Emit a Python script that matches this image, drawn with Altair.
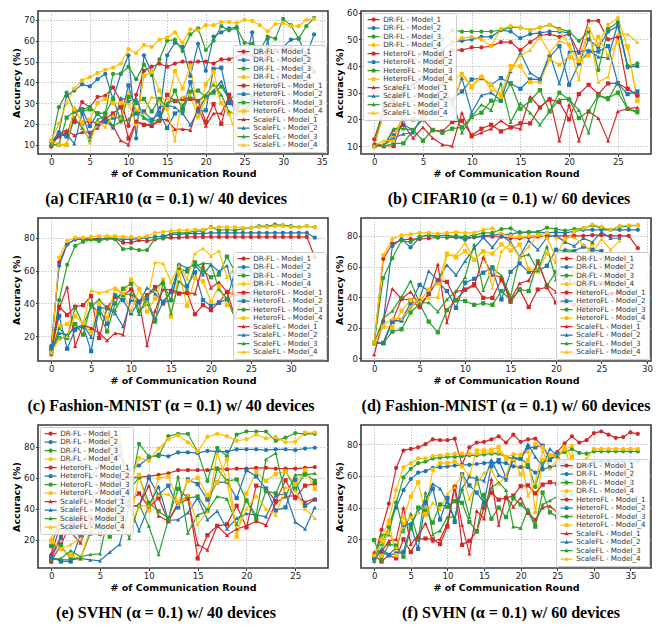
import altair as alt
import pandas as pd

METHODS = ["DR-FL", "HeteroFL", "ScaleFL"]
MODELS = ["Model_1", "Model_2", "Model_3", "Model_4"]
MODEL_COLORS = ["#d62728", "#1f77b4", "#2ca02c", "#ffbf00"]
METHOD_SHAPES = ["circle", "square", "triangle-up"]

# ---------------- (a) CIFAR10, 40 devices ----------------
a_dr1 = [9, 15, 14, 22, 30.5, 28, 33, 33.5, 37.5, 31, 19, 34, 45.5, 47.5, 49, 47.5, 49, 50, 49.5, 50, 50, 49, 51, 51, 52.5, 53.5, 53, 54, 53, 55.5, 56, 56.5, 36, 54, 45]
a_dr2 = [11, 16, 33.5, 36, 39, 38, 41.5, 44, 32, 44, 53, 13, 53, 45, 24, 53, 59, 57, 43, 58.5, 45.5, 62, 64, 66, 66.5, 48, 64, 38, 61, 35, 57, 60.5, 61, 53, 63]
a_dr3 = [10, 28, 35, 26, 27, 28, 25, 25, 44, 44, 47.5, 41.5, 48.5, 43.5, 51, 60, 60.5, 55, 63, 66, 55.5, 60, 67, 65, 66, 59, 58.5, 55.5, 62, 61, 70.5, 67.5, 61, 67, 71]
a_dr4 = [12, 20, 30, 37, 41, 42.5, 44.5, 46, 47, 49, 56, 54, 58, 57, 60.5, 61.5, 64, 59, 65.5, 65, 67.5, 67.5, 69, 69, 68.5, 70, 69.5, 67.5, 64.5, 68, 68.5, 67, 67, 70, 70.5]
a_het1 = [10, 14, 16, 21, 20, 21.5, 20, 22.5, 25, 28, 13, 21, 19.5, 19, 21.5, 34, 31, 32, 32, 31, 21, 29.5, 20, 34, 27, 25.5, 33, 33]
a_het2 = [10, 15, 14, 26, 27, 19, 25, 21, 23, 23, 38.5, 25, 26, 22, 25, 18, 25, 27, 40, 26, 26.5, 46.5, 47, 30, 28.5, 25.5, 32]
a_het3 = [10, 10, 23, 26, 26, 27, 25, 25, 32, 22, 33, 30, 32, 26, 32, 28, 36, 26, 35.5, 36, 33, 35, 38, 32, 34, 27, 30]
a_het4 = [10, 10, 10, 27, 21, 22, 30, 32, 30, 30, 30, 20, 43, 45, 36, 28, 45.5, 37, 48, 24, 39, 45, 30, 25, 14, 43, 38]
a_sc1 = [10, 15, 17, 14.5, 16, 16, 18, 22, 19, 12, 10, 21, 20, 19.5, 22, 22, 17.5, 17.5, 17, 28, 19, 25, 25, 33, 26, 25, 29]
a_sc2 = [10, 15, 15, 10.5, 25, 14, 20, 22, 18, 32.5, 31, 32, 23, 20, 28, 29, 28, 25, 19.5, 26, 33, 36, 40.5, 31.5, 25.5, 34.5, 29]
a_sc3 = [10, 10, 10, 23, 18, 12, 22, 24, 19, 21, 22, 26, 23, 21.5, 22, 30, 31.5, 29, 33, 31, 34, 39, 34, 26, 24.5, 38, 33]
a_sc4 = [12, 10, 10, 28, 20, 11, 21, 18.5, 24, 23, 35, 27, 25, 33, 31, 27, 12, 33, 34, 23, 32, 40, 30, 25, 26, 31, 44.5]

# ---------------- (b) CIFAR10, 60 devices ----------------
b_dr1 = [12.5, 24, 28, 31, 33, 36, 38, 43, 46, 46, 47, 47, 47.5, 49, 49, 46, 49, 51.5, 52, 51, 52, 45, 57, 57, 50, 51, 31.5, 29]
b_dr2 = [10, 23, 27, 30, 33, 35, 40, 46, 49, 49.5, 50, 51, 51, 53.5, 53, 50.5, 52, 52.5, 53, 53, 52.5, 41, 50, 47, 53, 55, 40, 40]
b_dr3 = [10, 26, 32, 38, 42, 45, 43, 50, 53.5, 53, 53, 53, 53, 53.5, 54.5, 54.5, 53.5, 54.5, 55.5, 54, 53, 49.5, 53, 38.5, 54, 56.5, 40, 41]
b_dr4 = [10, 22, 30, 35, 38, 40, 39.5, 40.5, 48, 50.5, 51, 50, 47.5, 54, 55, 54.5, 53.5, 54.5, 55.5, 53.5, 48, 41.5, 54, 48, 55.5, 58, 47, 27]
b_het1 = [10, 10, 10, 20, 20, 20, 16, 15.5, 19, 19.5, 14, 16.5, 18, 15.5, 17, 18.5, 18.5, 24.5, 27.5, 26.5, 20, 29.5, 33, 29.5, 33.5, 33.5, 31.5, 29]
b_het2 = [10, 10, 14, 18, 16, 20, 28.5, 27.5, 27.5, 30.5, 35, 35.5, 33, 35.5, 33.5, 31.5, 35, 35, 43.5, 47.5, 33, 41, 45.5, 45.5, 47.5, 33.5, 29.5, 30.5]
b_het3 = [10, 10, 11, 11, 16, 12, 16, 15, 16.5, 17, 21, 22.5, 27, 27, 33.5, 24, 27, 31, 23, 30, 27.5, 20.5, 23, 29, 28, 30, 24, 23]
b_het4 = [10, 10, 13, 22, 27, 20, 30, 35, 34.5, 37, 32, 36, 33, 28.5, 40, 40, 34, 34, 42.5, 40.5, 43.5, 42, 44, 51, 44, 49, 47.5, 27]
b_sc1 = [11, 10, 16, 18, 13, 17, 13, 10.5, 10, 22.5, 13.5, 15, 16.5, 19.5, 17, 16.5, 28.5, 24.5, 28, 12, 25.5, 12, 23, 20.5, 12, 23, 24, 24.5]
b_sc2 = [10, 10.5, 13, 14.5, 15, 22, 27, 33.5, 25.5, 35.5, 22.5, 29, 30, 27, 38, 45, 37.5, 35, 44.5, 33.5, 45.5, 45.5, 46, 43.5, 43, 56, 39.5, 40]
b_sc3 = [10, 10, 16.5, 16.5, 16, 20, 24, 28.5, 28, 15, 21, 25.5, 23.5, 33.5, 19, 26, 22.5, 18, 23, 27.5, 27.5, 23.5, 15, 29, 27.5, 34, 24, 22.5]
b_sc4 = [10, 12, 12, 22, 23, 26, 30, 35, 22, 37.5, 32.5, 36.5, 31, 30, 38.5, 44, 46, 51, 45, 49.5, 48, 35, 54.5, 34, 36, 52, 52, 49]

# ---------------- (c) Fashion-MNIST, 40 devices ----------------
c_dr1 = [12, 65, 76, 79, 79, 79.5, 79.5, 79.5, 79.5, 77, 77, 78.5, 78, 79, 80, 80, 80, 80.5, 80.5, 80.5, 80.5, 80.5, 80.5, 80.5, 80.5, 80.5, 80.5, 80.5, 80.5, 80.5, 80.5, 80.5, 80.5, 68]
c_dr2 = [14, 63, 76, 79, 79, 79, 79, 80, 79.5, 79, 79, 79.5, 80, 80.5, 81, 82, 82, 82.5, 82.5, 82.5, 83, 83, 83, 83, 83, 83, 83, 83, 83, 83, 83, 83, 83, 80]
c_dr3 = [10, 42, 63.5, 75, 77.5, 79, 78, 79.5, 79, 73, 73.5, 72.5, 72.5, 79.5, 79.5, 83, 83, 83, 84, 84, 86.5, 84.5, 85, 84.5, 85.5, 86, 87, 87, 88, 87.5, 87, 86.5, 87, 86.5]
c_dr4 = [10, 68, 78, 80, 80, 80.5, 81, 81, 81, 80.5, 80.5, 80, 81, 83, 83.5, 84, 84.5, 84.5, 85, 85, 86, 86.5, 86.5, 86.5, 86, 86, 86.5, 86.5, 87, 87, 86.5, 86.5, 87, 86.5]
c_het1 = [10, 38, 33, 38, 39, 44.5, 19, 37.5, 44, 45, 48.5, 41, 45, 50, 40, 47, 46, 46.5, 33.5, 39, 36, 40.5, 47, 45.5, 45.5, 36.5, 35.5]
c_het2 = [12, 32.5, 12.5, 24, 26, 11, 37, 27.5, 45, 42, 34, 41, 43, 30, 41, 47.5, 63, 50.5, 59, 42, 38.5, 40.5, 42.5, 59.5, 60, 60, 45]
c_het3 = [11, 19, 19, 27.5, 21, 39.5, 34, 23, 40, 49, 52, 35.5, 40, 29, 52.5, 42, 61, 59.5, 65, 60, 56, 57.5, 68.5, 59.5, 57.5, 52, 60]
c_het4 = [10, 26.5, 27.5, 32.5, 28, 22.5, 40, 31, 49, 45, 54.5, 49, 35, 43, 54.5, 32, 59, 38.5, 55.5, 53.5, 41, 50.5, 39, 51, 53.5, 54, 55]
c_sc1 = [9, 37, 50, 14, 27, 25, 22, 17.5, 22, 21, 46, 41.5, 14.5, 35.5, 48.5, 48.5, 46.5, 46.5, 46, 63, 49.5, 53, 47, 32, 42.5, 52.5, 53]
c_sc2 = [10, 22, 21, 25, 27, 19.5, 37.5, 37, 34, 26, 42, 40.5, 49.5, 46, 40.5, 42, 64, 61.5, 63.5, 57.5, 63.5, 59.5, 63, 45.5, 44, 43.5, 53]
c_sc3 = [10, 25, 19.5, 37.5, 27, 38, 42.5, 37, 36, 45, 46, 33.5, 44.5, 48.5, 53.5, 34, 53.5, 49, 62.5, 64.5, 64, 48.5, 43, 31, 45.5, 46, 52.5]
c_sc4 = [10, 18.5, 20, 32.5, 28, 48, 46.5, 47.5, 49.5, 46.5, 35.5, 48.5, 40.5, 65, 64.5, 53, 63, 55, 70.5, 73.5, 69, 72, 56, 61, 55, 51, 53]

# ---------------- (d) Fashion-MNIST, 60 devices ----------------
d_dr1 = [10, 65, 75, 77.5, 78, 78, 78.5, 79, 79, 79, 79, 79, 79.5, 79.5, 79.5, 78.5, 78.5, 79, 79.5, 80, 80, 80, 80, 80, 80.5, 80.5, 80, 80, 80, 72]
d_dr2 = [10, 24, 73.5, 78, 72.5, 79, 80.5, 80, 80.5, 79.5, 77.5, 79.5, 80, 80.5, 81, 81, 82.5, 82.5, 82.5, 82, 82.5, 82, 83, 84, 84, 84, 84, 84, 84, 84]
d_dr3 = [10, 52.5, 65.5, 77, 76, 79.5, 80.5, 79, 79, 80, 79.5, 80.5, 82, 82, 84.5, 85, 82, 82.5, 82.5, 85.5, 84.5, 83.5, 84.5, 85, 87, 85, 84, 86, 86.5, 87]
d_dr4 = [10, 67.5, 78, 80.5, 81, 82, 82, 81.5, 82, 82.5, 82, 82, 84, 85, 81, 80, 79.5, 80, 80.5, 82, 79, 76.5, 83, 85, 87.5, 86, 84, 86.5, 87, 87]
d_het1 = [10, 10, 24, 39, 38, 33.5, 42, 51, 50, 38, 45, 48.5, 39.5, 39.5, 51.5, 37, 45, 33.5, 45, 46.5, 36.5, 36.5, 35, 34, 34, 37, 42, 43]
d_het2 = [10, 10, 24, 25, 36, 48, 44, 50, 44, 33, 49.5, 52, 56, 59.5, 38.5, 56.5, 62, 56.5, 57, 60.5, 71, 70, 70, 73, 71, 70, 47, 60]
d_het3 = [10, 10, 17.5, 19, 30, 35.5, 24, 17, 31.5, 38, 37.5, 35, 36, 35, 44, 38, 45, 44, 63.5, 47.5, 56.5, 52.5, 49, 45.5, 42, 49, 49, 45]
d_het4 = [10, 20.5, 20.5, 31, 38, 37, 45, 49, 68.5, 66, 70, 64.5, 70, 68.5, 74.5, 70.5, 74.5, 58.5, 57, 68.5, 63, 67, 54, 65, 75, 55, 47, 51]
d_sc1 = [2.5, 25, 45.5, 39, 43.5, 35, 42, 61.5, 23.5, 44, 44.5, 47.5, 66, 54.5, 53, 38.5, 49, 51, 62.5, 48, 43.5, 39.5, 60.5, 52, 49.5, 49, 50, 50]
d_sc2 = [10, 10, 25, 24.5, 33, 39, 57, 51, 61, 54.5, 63.5, 72, 79, 72.5, 80.5, 76, 66.5, 77, 71, 79, 80.5, 76, 73.5, 78.5, 76, 82.5, 78.5, 78.5]
d_sc3 = [10, 26, 31, 40, 50.5, 36, 36.5, 30.5, 38.5, 44, 53, 74.5, 44.5, 59, 54, 40.5, 66, 68, 57.5, 73, 51.5, 71.5, 70, 64.5, 56, 54.5, 64, 65.5]
d_sc4 = [10, 21.5, 26, 26, 32.5, 40, 39.5, 40, 67.5, 67.5, 75.5, 64.5, 70.5, 46, 70, 75, 66, 73, 81, 79, 66, 79, 79, 74.5, 69, 78, 71, 77]

# ---------------- (e) SVHN, 40 devices ----------------
e_dr1 = [10, 22, 30, 37, 45, 53, 57, 59, 60, 60.5, 61, 62, 63, 65, 65, 65, 65, 66, 65.5, 66, 66, 66.5, 66.5, 66, 66, 66, 66.5, 67]
e_dr2 = [8, 21, 35, 48, 60, 68, 73, 74.5, 65, 68, 73, 75, 74, 76.5, 76.5, 76, 77.5, 77, 77, 78.5, 78.5, 78.5, 78, 78.5, 78.5, 78, 79, 79.5]
e_dr3 = [16, 35, 55, 68, 78, 84, 79, 80.5, 48, 82, 74, 74, 87, 88.5, 88.5, 77, 58, 79.5, 74, 88, 90, 90, 90, 84, 86, 89, 88.5, 88.5]
e_dr4 = [20, 45, 70, 82, 86, 86, 87, 87, 56, 73, 71, 79, 85, 87.5, 83, 77, 86.5, 88.5, 87, 84, 85, 88, 85.5, 86.5, 83, 83.5, 89.5, 89.5]
e_het1 = [6, 17, 30, 33, 35, 24, 37, 37, 45, 50, 41, 47, 32, 44, 48, 8, 23, 29, 30, 42, 28, 55, 53, 45, 58.5, 47, 55, 56.5]
e_het2 = [9, 6, 6, 23, 30, 28, 40, 52, 42, 42, 60, 49, 55, 41, 59, 56, 46, 57, 57.5, 47, 65, 61, 53, 39, 41, 59, 42, 46]
e_het3 = [16, 16, 8, 8, 24, 30, 22, 42, 52, 60.5, 44, 38.5, 34, 53, 47, 48, 39, 66, 58, 59, 45.5, 33.5, 51.5, 50, 64.5, 53, 63, 58]
e_het4 = [19, 14, 10, 8, 27, 29, 37.5, 32, 27.5, 62, 39, 60, 61, 44.5, 58, 60, 49, 57, 72, 22, 50, 64, 58, 62.5, 64, 56, 65, 53]
e_sc1 = [11, 30, 25, 18, 32, 38, 43, 46.5, 42, 42, 55, 35.5, 32, 43, 46.5, 17, 13.5, 29, 23, 27, 29, 32, 29.5, 44, 48, 48.5, 44.5, 46.5]
e_sc2 = [8, 7, 7, 8, 7, 6.5, 12, 17, 42, 26, 42, 54.5, 32.5, 33, 37.5, 47, 33, 38.5, 27, 34, 37, 36, 35, 48.5, 50, 31.5, 27, 41]
e_sc3 = [7, 8, 13, 9, 10.5, 11, 40, 35, 21, 43, 29, 10.5, 33, 61, 24.5, 36, 38.5, 48, 46.5, 30, 45.5, 36, 72, 76, 48, 62, 62, 63]
e_sc4 = [20, 14, 17, 21, 28, 30, 44, 31, 28, 42, 42, 49, 49.5, 43, 49, 30, 38, 76, 58, 25, 40, 48.5, 40, 36, 54, 52, 40, 34]

# ---------------- (f) SVHN, 60 devices ----------------
f_dr1 = [8, 26, 42.5, 65, 76, 77, 78, 80, 83, 82.5, 82.5, 83.5, 67, 78, 81, 81.5, 83, 85, 81, 86, 81.5, 83, 83.5, 79, 72, 75, 80.5, 85, 81, 82.5, 87, 88, 86, 84, 84.5, 87.5, 86.5]
f_dr2 = [8, 12, 28, 40, 51, 58, 62, 63, 65, 65.5, 66, 66.5, 67, 67, 67.5, 68, 68.5, 68.5, 68, 66, 65.5, 65.5, 62, 64, 65.5, 66.5, 69, 70, 66, 67, 69, 69, 69, 69, 69, 69, 69]
f_dr3 = [10, 17, 28, 43, 59, 64.5, 68, 69, 71, 71.5, 72, 72, 72.5, 73, 73, 73.5, 74, 74, 72, 71, 71, 67, 53, 69, 70, 73, 75, 77, 74.5, 74, 75.5, 75.5, 75.5, 75.5, 75.5, 75.5, 75.5]
f_dr4 = [10, 20, 32, 51, 65.5, 68, 71, 71, 72.5, 73, 73.5, 74, 74, 74, 74, 75, 75, 75, 72, 73.5, 73.5, 75, 37, 70, 73, 74, 76.5, 79, 30, 70.5, 77, 77, 77, 77, 77, 77, 77]
f_het1 = [10, 6, 10, 8, 20, 12, 20, 20.5, 20, 17, 28, 53, 16.5, 19, 25, 40, 49.5, 45, 46, 47.5, 53.5, 54, 49, 54.5, 56, 55, 55, 55]
f_het2 = [8, 12, 10, 11, 12, 29, 14, 43, 52, 32.5, 46, 31, 61, 54, 49.5, 43, 66, 70, 59, 70, 71, 78, 78, 79, 70, 74, 57, 55]
f_het3 = [19.5, 7, 17, 16, 9, 27, 40, 38, 30.5, 42, 40.5, 44, 43, 31, 25, 48, 33, 40, 34, 46, 42, 37.5, 28, 49.5, 37, 34, 48, 48.5]
f_het4 = [10, 10, 30, 10, 34, 47, 56, 36, 64, 68, 68, 69, 66, 60, 76, 76, 76.5, 78, 71, 70.5, 61, 70, 80, 78, 73, 72, 78, 72]
f_sc1 = [12, 12, 19, 20, 40, 17, 22.5, 30, 19, 20, 30, 54, 29, 11, 38, 33, 58, 29, 47, 40.5, 46, 36.5, 32.5, 40, 41, 37, 34.5, 35.5]
f_sc2 = [7, 14, 10.5, 14.5, 29, 30, 37.5, 44, 55, 52, 43.5, 33, 52, 59.5, 58, 57, 70, 60.5, 57.5, 72, 70.5, 80, 72, 66, 77, 72.5, 67, 65.5]
f_sc3 = [6, 23, 23, 44, 25, 36, 20, 49.5, 23, 25.5, 34, 34, 52, 34, 59.5, 41, 52.5, 56, 51, 28, 27, 39, 30, 42, 44.5, 47, 42, 40]
f_sc4 = [10, 18, 24, 15, 30, 34, 37, 35, 43, 39, 48.5, 53, 61, 45.5, 55, 62, 64, 55, 60, 74, 73, 47.5, 56, 76, 64.5, 70, 79, 62]

CAPTIONS = [
    "(a) CIFAR10 (\u03b1 = 0.1) w/ 40 devices",
    "(b) CIFAR10 (\u03b1 = 0.1) w/ 60 devices",
    "(c) Fashion-MNIST (\u03b1 = 0.1) w/ 40 devices",
    "(d) Fashion-MNIST (\u03b1 = 0.1) w/ 60 devices",
    "(e) SVHN (\u03b1 = 0.1) w/ 40 devices",
    "(f) SVHN (\u03b1 = 0.1) w/ 60 devices",
]

SERIES = [f"{m} - {md}" for m in METHODS for md in MODELS]
COLOR_RANGE = MODEL_COLORS * 3
SHAPE_RANGE = [s for s in METHOD_SHAPES for _ in MODELS]

# legend glyphs: a short line segment with the marker in its middle
_BARS = "M-2,-0.2 L{a},-0.2 L{a},0.2 L-2,0.2 Z M{b},-0.2 L2,-0.2 L2,0.2 L{b},0.2 Z "
LEG_CIRCLE = _BARS.format(a=-0.62, b=0.62) + "M-0.7,0 A0.7,0.7 0 1,1 0.7,0 A0.7,0.7 0 1,1 -0.7,0 Z"
LEG_SQUARE = _BARS.format(a=-0.55, b=0.55) + "M-0.6,-0.6 L0.6,-0.6 L0.6,0.6 L-0.6,0.6 Z"
LEG_TRI = _BARS.format(a=-0.4, b=0.4) + "M0,-0.78 L0.7,0.52 L-0.7,0.52 Z"
LEG_RANGE = [s for s in [LEG_CIRCLE, LEG_SQUARE, LEG_TRI] for _ in MODELS]

FONT = "DejaVu Sans"
W, H = 290, 143


def build_df(lists):
    rows = []
    for name, vals in zip(SERIES, lists):
        for i, v in enumerate(vals):
            rows.append({"round": i, "acc": v, "series": name})
    return pd.DataFrame(rows)


def panel(lists, caption, xdom, xticks, ydom, yticks, legend_orient, cap_dx):
    df = build_df(lists)
    leg = alt.Legend(
        title=None, orient=legend_orient, offset=2, fillColor="rgba(255,255,255,0.85)",
        strokeColor="#cccccc", padding=3, cornerRadius=2,
        labelFont=FONT, labelFontSize=7.2, labelColor="#333333", labelLimit=100,
        symbolSize=36, symbolStrokeWidth=0, rowPadding=0.5, symbolOffset=4,
        labelOffset=6, symbolOpacity=1,
    )
    x = alt.X("round:Q",
              scale=alt.Scale(domain=xdom, nice=False, zero=False),
              axis=alt.Axis(values=xticks, title="# of Communication Round"))
    y = alt.Y("acc:Q",
              scale=alt.Scale(domain=ydom, nice=False, zero=False),
              axis=alt.Axis(values=yticks, title="Accuracy (%)"))
    cscale = alt.Scale(domain=SERIES, range=COLOR_RANGE)
    base = alt.Chart(df)
    lines = base.mark_line(strokeWidth=1.2, clip=True).encode(
        x=x, y=y, color=alt.Color("series:N", scale=cscale, legend=None), detail="series:N")
    pts = base.mark_point(filled=True, size=18, opacity=1, clip=True).encode(
        x=x, y=y, color=alt.Color("series:N", scale=cscale, legend=None),
        shape=alt.Shape("series:N", scale=alt.Scale(domain=SERIES, range=SHAPE_RANGE), legend=None))
    legend_layer = base.transform_calculate(lab="datum.series").transform_filter("false").mark_point(
        filled=True, opacity=1, clip=True).encode(
        x=x, y=y,
        color=alt.Color("lab:N", scale=cscale, legend=leg, sort=SERIES),
        shape=alt.Shape("lab:N", scale=alt.Scale(domain=SERIES, range=LEG_RANGE), legend=leg, sort=SERIES))
    return alt.layer(lines, pts, legend_layer).resolve_scale(
        color="independent", shape="independent").properties(
        width=W, height=H,
        title=alt.TitleParams(caption, orient="bottom", font="Liberation Serif", fontSize=16,
                              fontWeight="bold", color="black", offset=13, anchor="middle", dx=cap_dx),
    )


pa = panel([a_dr1, a_dr2, a_dr3, a_dr4, a_het1, a_het2, a_het3, a_het4, a_sc1, a_sc2, a_sc3, a_sc4],
           CAPTIONS[0], [-1.7, 35.8], [0, 5, 10, 15, 20, 25, 30, 35], [5.5, 74.3], [10, 20, 30, 40, 50, 60, 70], "bottom-right", -17)
pb = panel([b_dr1, b_dr2, b_dr3, b_dr4, b_het1, b_het2, b_het3, b_het4, b_sc1, b_sc2, b_sc3, b_sc4],
           CAPTIONS[1], [-1.35, 28.4], [0, 5, 10, 15, 20, 25], [7, 60.7], [10, 20, 30, 40, 50, 60], "top-left", 3)
pc = panel([c_dr1, c_dr2, c_dr3, c_dr4, c_het1, c_het2, c_het3, c_het4, c_sc1, c_sc2, c_sc3, c_sc4],
           CAPTIONS[2], [-1.65, 34.65], [0, 5, 10, 15, 20, 25, 30], [5, 92], [20, 40, 60, 80], "bottom-right", -12)
pd_ = panel([d_dr1, d_dr2, d_dr3, d_dr4, d_het1, d_het2, d_het3, d_het4, d_sc1, d_sc2, d_sc3, d_sc4],
            CAPTIONS[3], [-1.45, 30.45], [0, 5, 10, 15, 20, 25, 30], [-1.75, 91.75], [0, 20, 40, 60, 80], "bottom-right", 0)
pe = panel([e_dr1, e_dr2, e_dr3, e_dr4, e_het1, e_het2, e_het3, e_het4, e_sc1, e_sc2, e_sc3, e_sc4],
           CAPTIONS[4], [-1.35, 28.35], [0, 5, 10, 15, 20, 25], [1.8, 94.2], [20, 40, 60, 80], "top-left", -17)
pf = panel([f_dr1, f_dr2, f_dr3, f_dr4, f_het1, f_het2, f_het3, f_het4, f_sc1, f_sc2, f_sc3, f_sc4],
           CAPTIONS[5], [-1.8, 37.8], [0, 5, 10, 15, 20, 25, 30, 35], [1.9, 92.1], [20, 40, 60, 80], "bottom-right", 5)


def row(l, r):
    return alt.hconcat(l, r, spacing=4).resolve_scale(color="independent", shape="independent").resolve_legend(
        color="independent", shape="independent")


chart = alt.vconcat(row(pa, pb), row(pc, pd_), row(pe, pf), spacing=9).resolve_scale(
    color="independent", shape="independent").resolve_legend(color="independent", shape="independent").properties(
    padding={"left": 2, "top": 0, "right": 0, "bottom": 0}, background="white"
).configure_view(
    stroke="#3a3a3a", strokeWidth=1.6
).configure_axis(
    labelFont=FONT, labelFontSize=8.6, labelColor="#222222", labelPadding=1,
    titleFont=FONT, titleFontSize=9.5, titleFontWeight="bold", titleColor="black", titlePadding=2,
    tickSize=2.5, tickColor="#333333", domain=False,
    grid=True, gridColor="#b5b5b5", gridDash=[1.5, 1.5], gridWidth=0.8,
)

chart.save("out.html", embed_options={"renderer": "svg", "actions": False})
